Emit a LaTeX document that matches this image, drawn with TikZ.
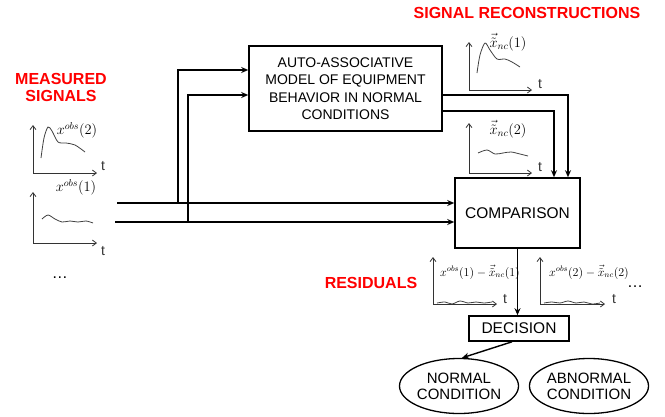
\documentclass[tikz,border=0pt]{standalone}
\usepackage{fontspec}
\setmainfont{Liberation Sans}
\usetikzlibrary{arrows.meta,shapes.geometric}
\begin{document}
\begin{tikzpicture}[x=1pt,y=-1pt,
  box/.style={draw,line width=1.6pt,inner sep=2pt,align=center},
  ell/.style={draw,line width=1.3pt,ellipse,inner sep=0pt,align=center,font=\fontsize{15}{16}\selectfont},
  arr/.style={line width=1.4pt,-{Stealth[length=7pt,width=6pt]}},
  axis/.style={line width=0.8pt,{Straight Barb[length=4pt,width=6pt]}-{Straight Barb[length=4pt,width=6pt]},draw=black!80},
  sig/.style={line width=0.8pt,draw=black!75},
  red/.style={text=red,font=\fontsize{16}{18}\selectfont\bfseries,align=center},
  tl/.style={font=\fontsize{14}{14}\selectfont,text=black!80},
  ml/.style={font=\fontsize{14}{15}\selectfont,inner sep=0pt}]
\useasboundingbox (0,0) rectangle (665,416);

% titles
\node[red] (tms) at (61,87) {MEASURED\\[-1pt]SIGNALS};
\node[red] (tsr) at (527,13) {SIGNAL RECONSTRUCTIONS};
\node[red] (tres) at (371,283) {RESIDUALS};

% boxes
\node[box,minimum width=193,minimum height=85,font=\fontsize{14}{17.5}\selectfont] (model) at (345.5,88.5)
  {AUTO-ASSOCIATIVE\\MODEL OF EQUIPMENT\\BEHAVIOR IN NORMAL\\CONDITIONS};
\node[box,minimum width=125,minimum height=70,font=\fontsize{15.5}{17}\selectfont] (comp) at (517.5,213) {COMPARISON};
\node[box,minimum width=100,minimum height=25,font=\fontsize{15.5}{17}\selectfont] (dec) at (519,328.5) {DECISION};
\node[ell,minimum width=119,minimum height=55] (norm) at (459,386) {NORMAL\\CONDITION};
\node[ell,minimum width=117,minimum height=55] (abn) at (589,386) {ABNORMAL\\CONDITION};

% measured signal plots
\draw[axis] (33,125) -- (33,173) -- (97,173);
\node[tl] (t1) at (103,166) {t};
\draw[sig] plot[smooth] coordinates {(41,158) (44,138) (48,127) (52,131) (58,142) (66,143) (75,145) (85,152)};
\node[ml] (l1) at (77,130) {$x^{obs}(2)$};

\draw[axis] (33,192) -- (33,243) -- (97,243);
\node[tl] (t2) at (103,251) {t};
\draw[sig] plot[smooth] coordinates {(42,219) (48,215) (55,219) (62,222) (70,221) (78,222) (86,221) (93,223)};
\node[ml] (l2) at (76,187) {$x^{obs}(1)$};
\node[font=\fontsize{16}{16}\selectfont] (d1) at (60,278) {\dots};

% reconstruction plots
\draw[axis] (469,42) -- (469,90) -- (532,90);
\node[tl] (t3) at (540,84) {t};
\draw[sig] plot[smooth] coordinates {(477,73) (480,55) (485,43) (490,50) (497,59) (505,59) (512,62) (520,67)};
\node[ml] (l3) at (508,42) {$\vec{\tilde{x}}_{nc}(1)$};

\draw[axis] (469,123) -- (469,173) -- (532,173);
\node[tl] (t4) at (540,167) {t};
\draw[sig] plot[smooth] coordinates {(478,153) (487,150) (495,154) (503,153) (511,152) (520,154) (528,156)};
\node[ml] (l4) at (508,129) {$\vec{\tilde{x}}_{nc}(2)$};

% residual plots
\draw[axis] (433,257) -- (433,304) -- (497,304);
\node[tl] (t5) at (505,299) {t};
\draw[sig] plot[smooth] coordinates {(437,303) (445,302) (452,304) (460,301) (468,303) (476,302) (484,303) (492,302)};
\node[ml,font=\fontsize{12}{13}\selectfont] (l5) at (480,272) {$x^{obs}(1)-\vec{\tilde{x}}_{nc}(1)$};

\draw[axis] (540,257) -- (540,304) -- (605,304);
\node[tl] (t6) at (614,299) {t};
\draw[sig] plot[smooth] coordinates {(544,303) (552,302) (560,303) (568,301) (576,303) (584,302) (592,304) (600,303)};
\node[ml,font=\fontsize{12}{13}\selectfont] (l6) at (589,272) {$x^{obs}(2)-\vec{\tilde{x}}_{nc}(2)$};
\node[font=\fontsize{16}{16}\selectfont] (d2) at (635,287) {\dots};

% connectors
\coordinate (in1) at (117,203);
\coordinate (in2) at (115,222);
\coordinate (b1) at (178,203);
\coordinate (b2) at (188,222);
\draw[arr] (in1) -- (in1 -| comp.west);
\draw[arr] (in2) -- (in2 -| comp.west);
\draw[arr] (b1) |- ([yshift=18.5pt]model.west);
\draw[arr] (b2) |- ([yshift=-6.5pt]model.west);
\draw[arr] ([yshift=-6.5pt]model.east) -| ([xshift=50.5pt]comp.north);
\draw[arr] ([yshift=-22.5pt]model.east) -| ([xshift=36.5pt]comp.north);
\draw[arr] (comp.south) -- (comp.south |- dec.north);
\draw[arr] ([xshift=-7pt]dec.south) -- ([xshift=3pt]norm.north);
\end{tikzpicture}
\end{document}
